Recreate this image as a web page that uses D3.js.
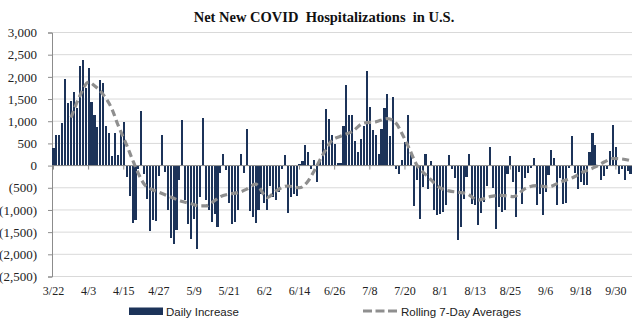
<!DOCTYPE html>
<html>
<head>
<meta charset="utf-8">
<script src="https://cdn.jsdelivr.net/npm/d3@7"></script>
<style>
  body { margin: 0; background: #fff; }
  svg { display: block; }
</style>
</head>
<body>
<div id="chart"></div>
<script>
// daily net new hospitalizations, one value per day starting 3/22
const startDate = new Date(2020, 2, 22);
const dailyIncrease = [
  390, 700, 690, 960, 1950, 1420, 1460, 1650, 1300, 2240, 2390, 1750,
  2210, 1440, 1135, 870, 1925, 1870, 895, 730, 210, 740, 250, 800,
  980, -255, -685, -1285, -1235, -80, 1225, -200, -745, -1475, -1235, -1250,
  -240, 685, -140, -1010, -1630, -1760, -1460, -330, 1020, -780, -1310, -1650,
  -1200, -1870, -710, 1080, -770, -1010, -1270, -1080, -1385, -165, 255, -105,
  -840, -1310, -1270, -990, 255, -165, 835, -1030, -1150, -1300, -1000, -650,
  -850, -1000, -450, -700, -780, -600, -70, 250, -1070, -700, -630, -690,
  30, 100, 460, 310, -70, 120, -370, 100, 580, 1270, 1050, 700,
  480, 60, 60, 900, 1820, 1135, 1135, 560, 310, 610, 900, 2140,
  1320, 810, 700, 270, 835, 1290, 1610, 660, 1535, -70, -180, 120,
  535, 1135, 310, -920, -330, -1195, -490, 270, -520, 100, -1000, -1120,
  -1100, -1050, -890, 250, -80, -290, -1670, -1385, -745, -255, 270, -860,
  -895, -1345, -1060, -820, -450, 420, -500, -1435, -930, -1045, -990, -180,
  210, -370, -1160, -140, -860, -280, -170, -50, 180, -880, -630, -1120,
  -590, -220, 345, 180, -880, -280, -860, -835, -50, 660, -160, -520,
  -370, -445, -445, 310, 745, 460, 0, -330, -230, -70, 320, 910,
  420, -180, -70, -315, -130, -200
];

// rolling 7-day average (day index, value)
const avgDays = [6, 9, 12, 14, 17, 20, 22, 25, 27, 29, 31, 33, 36, 40, 44, 47,
  50, 52, 55, 57, 60, 63, 66, 69, 73, 76, 80, 84, 87, 89, 92, 95, 98, 102, 106,
  110, 114, 117, 119, 121, 124, 128, 132, 135, 138, 141, 145, 149, 153, 157,
  161, 165, 169, 173, 177, 181, 185, 188, 191, 194, 197];
const avgValues = [1080, 1570, 1880, 1800, 1600, 1270, 920, 460, 130, -180, -420,
  -520, -600, -710, -810, -860, -910, -910, -790, -700, -640, -610, -530, -420,
  -720, -570, -460, -500, -340, -120, 250, 560, 660, 770, 960, 985, 1060, 950,
  720, 450, 20, -260, -500, -570, -600, -630, -780, -700, -670, -700, -520,
  -450, -480, -370, -280, -140, -30, 80, 160, 150, 110];

const xTickLabels = ["3/22", "4/3", "4/15", "4/27", "5/9", "5/21", "6/2", "6/14",
  "6/26", "7/8", "7/20", "8/1", "8/13", "8/25", "9/6", "9/18", "9/30"];
const yTicks = [3000, 2500, 2000, 1500, 1000, 500, 0, -500, -1000, -1500, -2000, -2500];

const width = 640, height = 321;
const plotLeft = 52, plotRight = 632, plotTop = 32.5, plotBottom = 276.5;

const fmtDay = d3.timeFormat("%-m/%-d");
const dates = dailyIncrease.map((v, i) => fmtDay(d3.timeDay.offset(startDate, i)));

const x = d3.scaleBand().domain(dates).range([plotLeft, plotRight]).paddingInner(0.28).paddingOuter(0.14);
const y = d3.scaleLinear().domain([-2500, 3000]).range([plotBottom, plotTop]);

const svg = d3.select("#chart").append("svg")
  .attr("width", width).attr("height", height);

const serif = "'Times New Roman', 'Liberation Serif', serif";
const sans = "Arial, 'Liberation Sans', sans-serif";

svg.append("text")
  .attr("x", 324).attr("y", 22)
  .attr("text-anchor", "middle")
  .attr("font-family", serif).attr("font-weight", "bold").attr("font-size", 14.5)
  .attr("fill", "#111")
  .style("white-space", "pre")
  .text("Net New COVID  Hospitalizations  in U.S.");

// gridlines
svg.append("g").selectAll("line").data(yTicks.filter(d => d !== 0)).join("line")
  .attr("x1", plotLeft).attr("x2", plotRight)
  .attr("y1", d => y(d)).attr("y2", d => y(d))
  .attr("stroke", "#d9d9d9").attr("stroke-width", 1);

// y axis
const fmtNum = d3.format(",");
const yAxis = svg.append("g").attr("transform", `translate(${plotLeft},0)`)
  .call(d3.axisLeft(y).tickValues(yTicks).tickSize(4).tickPadding(11)
    .tickFormat(d => d < 0 ? `(${fmtNum(-d)})` : fmtNum(d)));
yAxis.select(".domain").attr("stroke", "#8c8c8c");
yAxis.selectAll(".tick line").attr("stroke", "#8c8c8c");
yAxis.selectAll("text").attr("font-family", serif).attr("font-size", 13).attr("fill", "#222");

// tick marks on the zero line (under the bars)
svg.append("g").selectAll("line").data(xTickLabels).join("line")
  .attr("x1", d => x(d) + x.bandwidth() / 2).attr("x2", d => x(d) + x.bandwidth() / 2)
  .attr("y1", y(0)).attr("y2", y(0) + 4)
  .attr("stroke", "#8c8c8c");

// bars
svg.append("g").selectAll("rect").data(dailyIncrease).join("rect")
  .attr("x", (d, i) => x(dates[i]))
  .attr("width", x.bandwidth())
  .attr("y", d => y(Math.max(0, d)))
  .attr("height", d => Math.abs(y(d) - y(0)))
  .attr("fill", "#1c3359")
  .attr("shape-rendering", "crispEdges");

// zero line
svg.append("line")
  .attr("x1", plotLeft).attr("x2", plotRight).attr("y1", y(0)).attr("y2", y(0))
  .attr("stroke", "#8c8c8c");

// rolling average
const line = d3.line()
  .x(d => x(dates[d[0]]) + x.bandwidth() / 2)
  .y(d => y(d[1]))
  .curve(d3.curveMonotoneX);
svg.append("path")
  .datum(avgDays.map((d, i) => [d, avgValues[i]]))
  .attr("d", line)
  .attr("fill", "none")
  .attr("stroke", "#8f8f8f").attr("stroke-width", 3.2)
  .attr("stroke-dasharray", "7,4");

// x labels along the bottom
const xAxis = svg.append("g").attr("transform", `translate(0,${plotBottom})`)
  .call(d3.axisBottom(x).tickValues(xTickLabels).tickSize(0).tickPadding(10));
xAxis.select(".domain").remove();
xAxis.selectAll("text").attr("font-family", serif).attr("font-size", 12).attr("fill", "#222");

// legend
const legend = svg.append("g").attr("font-family", sans).attr("font-size", 11.5).attr("fill", "#222");
legend.append("rect").attr("x", 129).attr("y", 307.5).attr("width", 34).attr("height", 7.5)
  .attr("fill", "#1c3359");
legend.append("text").attr("x", 166).attr("y", 315.5).text("Daily Increase");
legend.append("line").attr("x1", 363).attr("x2", 397).attr("y1", 311).attr("y2", 311)
  .attr("stroke", "#8f8f8f").attr("stroke-width", 3).attr("stroke-dasharray", "9,3.5");
legend.append("text").attr("x", 401).attr("y", 315.5).text("Rolling 7-Day Averages");
</script>
</body>
</html>
